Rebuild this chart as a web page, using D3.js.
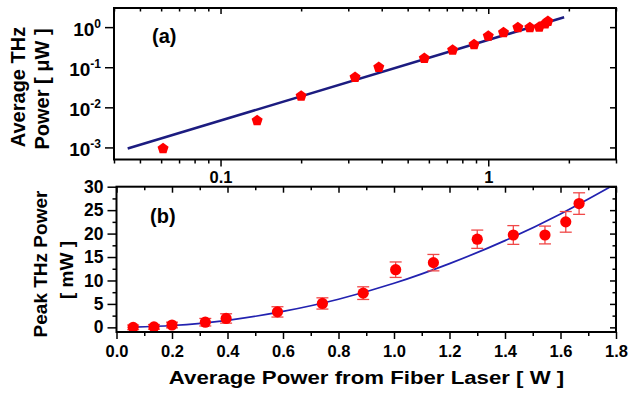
<!DOCTYPE html>
<html>
<head>
<meta charset="utf-8">
<script src="https://cdn.jsdelivr.net/npm/d3@7"></script>
<style>
  body { margin: 0; background: #fff; }
  svg text { font-family: "Liberation Sans", Arial, sans-serif; font-weight: bold; fill: #000; }
</style>
</head>
<body>
<svg id="chart" width="629" height="396"></svg>
<script>
/* global d3 */

//Panel (a): average THz power vs average laser power (log-log)
var laserA = [0.061, 0.137, 0.20, 0.318, 0.39, 0.577, 0.736, 0.885, 1.0, 1.14, 1.29, 1.43, 1.55, 1.63, 1.67];
var thzA = [0.00094, 0.0047, 0.019, 0.056, 0.099, 0.168, 0.27, 0.37, 0.60, 0.73, 0.97, 0.97, 1.0, 1.21, 1.4];
var fitLaserA = [0.045, 1.92];
var fitThzA = [0.00094, 1.77];
var yTicksA = [1e-3, 1e-2, 1e-1, 1];
var yExpA = ['-3', '-2', '-1', '0'];
var xMajorA = [0.1, 1];
var xLabelsA = ['0.1', '1'];

//Panel (b): peak THz power vs average laser power
var laserB = [0.06, 0.135, 0.20, 0.32, 0.395, 0.58, 0.742, 0.889, 1.006, 1.142, 1.30, 1.43, 1.544, 1.619, 1.667];
var peakB = [0.0, 0.1, 0.5, 1.1, 1.9, 3.3, 5.1, 7.3, 12.3, 13.8, 18.8, 19.7, 19.7, 22.5, 26.4];
var errB = [0.5, 0.5, 0.6, 0.8, 1.0, 1.1, 1.2, 1.35, 1.65, 1.75, 1.95, 2.0, 1.9, 2.2, 2.3];
var fitLaserB = [0.06, 0.2, 0.4, 0.6, 0.8, 1.0, 1.2, 1.4, 1.6, 1.78];
var fitPeakB = [0.05, 0.4, 1.5, 3.4, 6.0, 9.4, 13.6, 18.5, 24.2, 30];
var yMajorB = [0, 5, 10, 15, 20, 25, 30];
var yMinorB = [2.5, 7.5, 12.5, 17.5, 22.5, 27.5];
var xMajorB = [0, 0.2, 0.4, 0.6, 0.8, 1.0, 1.2, 1.4, 1.6, 1.8];
var xMinorB = [0.1, 0.3, 0.5, 0.7, 0.9, 1.1, 1.3, 1.5, 1.7];

var svg = d3.select('#chart');

var red = '#ff0000';

//Pentagon marker
var pentagon = {
  draw: function(context, size){
    var r = Math.sqrt(size / 2.378);
    for(var i = 0; i < 5; i++){
      var a = -Math.PI / 2 + i * 2 * Math.PI / 5;
      if(i === 0) context.moveTo(r * Math.cos(a), r * Math.sin(a));
      else context.lineTo(r * Math.cos(a), r * Math.sin(a));
    }
    context.closePath();
  }
};

//Helper: strip domain path, style ticks
function styleAxis(g, fontSize){
  g.select('.domain').remove();
  g.selectAll('.tick line').attr('stroke', '#000').attr('stroke-width', 1.5);
  g.selectAll('.tick text').attr('font-size', fontSize || 16.5);
}

//---------------- Panel (a) ----------------
var ax = { left: 114, right: 616, top: 8, bottom: 159.5 };
var xA = d3.scaleLog().domain([0.04, 3]).range([ax.left, ax.right]);
var yA = d3.scaleLog().domain([5e-4, 3]).range([ax.bottom, ax.top]);
var xMinorA = xA.ticks().filter(function(v){ return xMajorA.indexOf(v) < 0 && Math.abs(Math.log10(v) - Math.round(Math.log10(v))) > 1e-6; });

var gA = svg.append('g');

//Bottom ticks (outward) + labels
gA.append('g').attr('transform', 'translate(0,' + ax.bottom + ')')
  .call(d3.axisBottom(xA).tickValues(xMajorA).tickSize(7).tickPadding(5)
    .tickFormat(function(d, i){ return xLabelsA[i]; }))
  .call(styleAxis);
gA.append('g').attr('transform', 'translate(0,' + ax.bottom + ')')
  .call(d3.axisBottom(xA).tickValues(xMinorA).tickSize(4).tickFormat(''))
  .call(styleAxis);
//Top ticks (inward)
gA.append('g').attr('transform', 'translate(0,' + ax.top + ')')
  .call(d3.axisTop(xA).tickValues(xMajorA).tickSize(-6).tickFormat(''))
  .call(styleAxis);
gA.append('g').attr('transform', 'translate(0,' + ax.top + ')')
  .call(d3.axisTop(xA).tickValues(xMinorA).tickSize(-3.5).tickFormat(''))
  .call(styleAxis);
//Left ticks with 10^n labels
var leftA = gA.append('g').attr('transform', 'translate(' + ax.left + ',0)')
  .call(d3.axisLeft(yA).tickValues(yTicksA).tickSize(9).tickPadding(4).tickFormat(''))
  .call(styleAxis, 19);
leftA.selectAll('.tick text').each(function(d, i){
  var t = d3.select(this);
  t.text('10').attr('dy', '0.45em');
  t.append('tspan').attr('font-size', 12).attr('dy', '-0.7em').text(yExpA[i]);
});
//Right ticks (inward)
gA.append('g').attr('transform', 'translate(' + ax.right + ',0)')
  .call(d3.axisRight(yA).tickValues(yTicksA).tickSize(-6).tickFormat(''))
  .call(styleAxis);

//Fit line
var lineA = d3.line().x(function(d){ return xA(d[0]); }).y(function(d){ return yA(d[1]); });
gA.append('path').datum(d3.zip(fitLaserA, fitThzA))
  .attr('d', lineA).attr('fill', 'none').attr('stroke', '#1c1c80').attr('stroke-width', 2.6);

//Markers
gA.selectAll('.pent').data(d3.zip(laserA, thzA)).enter().append('path')
  .attr('class', 'pent')
  .attr('transform', function(d){ return 'translate(' + xA(d[0]) + ',' + yA(d[1]) + ')'; })
  .attr('d', d3.symbol().type(pentagon).size(80))
  .attr('fill', red);

//Frame
gA.append('rect').attr('x', ax.left).attr('y', ax.top)
  .attr('width', ax.right - ax.left).attr('height', ax.bottom - ax.top)
  .attr('fill', 'none').attr('stroke', '#000').attr('stroke-width', 2);

gA.append('text').attr('x', 152).attr('y', 43).attr('font-size', 20).text('(a)');

//Y title
var tA = gA.append('g').attr('transform', 'translate(0,87) rotate(-90)');
tA.append('text').attr('x', 0).attr('y', 25).attr('text-anchor', 'middle').attr('font-size', 20).text('Average THz');
tA.append('text').attr('x', -2).attr('y', 49).attr('text-anchor', 'middle').attr('font-size', 20).text('Power [ \u03bcW ]');

//---------------- Panel (b) ----------------
var bx = { left: 116.5, right: 616, top: 186.7, bottom: 332 };
var xB = d3.scaleLinear().domain([0, 1.8]).range([bx.left, bx.right]);
var yB = d3.scaleLinear().domain([-0.99, 30]).range([bx.bottom, bx.top]);

var gB = svg.append('g');

gB.append('g').attr('transform', 'translate(0,' + bx.bottom + ')')
  .call(d3.axisBottom(xB).tickValues(xMajorB).tickSize(7).tickPadding(6).tickFormat(d3.format('.1f')))
  .call(styleAxis);
gB.append('g').attr('transform', 'translate(0,' + bx.bottom + ')')
  .call(d3.axisBottom(xB).tickValues(xMinorB).tickSize(4).tickFormat(''))
  .call(styleAxis);
gB.append('g').attr('transform', 'translate(0,' + bx.top + ')')
  .call(d3.axisTop(xB).tickValues(xMajorB).tickSize(-6).tickFormat(''))
  .call(styleAxis);
gB.append('g').attr('transform', 'translate(0,' + bx.top + ')')
  .call(d3.axisTop(xB).tickValues(xMinorB).tickSize(-3.5).tickFormat(''))
  .call(styleAxis);
gB.append('g').attr('transform', 'translate(' + bx.left + ',0)')
  .call(d3.axisLeft(yB).tickValues(yMajorB).tickSize(9).tickPadding(4))
  .call(styleAxis, 17.5);
gB.append('g').attr('transform', 'translate(' + bx.left + ',0)')
  .call(d3.axisLeft(yB).tickValues(yMinorB).tickSize(4).tickFormat(''))
  .call(styleAxis);
gB.append('g').attr('transform', 'translate(' + bx.right + ',0)')
  .call(d3.axisRight(yB).tickValues(yMajorB).tickSize(-6).tickFormat(''))
  .call(styleAxis);
gB.append('g').attr('transform', 'translate(' + bx.right + ',0)')
  .call(d3.axisRight(yB).tickValues(yMinorB).tickSize(-3.5).tickFormat(''))
  .call(styleAxis);

//Fit curve
var lineB = d3.line().curve(d3.curveMonotoneX).x(function(d){ return xB(d[0]); }).y(function(d){ return yB(d[1]); });
gB.append('path').datum(d3.zip(fitLaserB, fitPeakB))
  .attr('d', lineB).attr('fill', 'none').attr('stroke', '#2222b0').attr('stroke-width', 1.7);

//Error bars
var ptsB = d3.zip(laserB, peakB, errB);
var eb = gB.selectAll('.err').data(ptsB).enter().append('g').attr('class', 'err')
  .attr('stroke', '#f04848').attr('stroke-width', 1.3);
eb.append('line')
  .attr('x1', function(d){ return xB(d[0]); }).attr('x2', function(d){ return xB(d[0]); })
  .attr('y1', function(d){ return yB(d[1] - d[2]); }).attr('y2', function(d){ return yB(d[1] + d[2]); });
eb.append('line')
  .attr('x1', function(d){ return xB(d[0]) - 6; }).attr('x2', function(d){ return xB(d[0]) + 6; })
  .attr('y1', function(d){ return yB(d[1] + d[2]); }).attr('y2', function(d){ return yB(d[1] + d[2]); });
eb.append('line')
  .attr('x1', function(d){ return xB(d[0]) - 6; }).attr('x2', function(d){ return xB(d[0]) + 6; })
  .attr('y1', function(d){ return yB(d[1] - d[2]); }).attr('y2', function(d){ return yB(d[1] - d[2]); });

//Markers
gB.selectAll('.dot').data(ptsB).enter().append('circle')
  .attr('class', 'dot')
  .attr('cx', function(d){ return xB(d[0]); }).attr('cy', function(d){ return yB(d[1]); })
  .attr('r', 5.6).attr('fill', red);

//Frame
gB.append('rect').attr('x', bx.left).attr('y', bx.top)
  .attr('width', bx.right - bx.left).attr('height', bx.bottom - bx.top)
  .attr('fill', 'none').attr('stroke', '#000').attr('stroke-width', 2);

gB.append('text').attr('x', 150).attr('y', 223).attr('font-size', 20).text('(b)');

var tB = gB.append('g').attr('transform', 'translate(0,264) rotate(-90)');
tB.append('text').attr('x', 0).attr('y', 47).attr('text-anchor', 'middle').attr('font-size', 19).text('Peak THz Power');
tB.append('text').attr('x', -6).attr('y', 73).attr('text-anchor', 'middle').attr('font-size', 19).text('[ mW ]');

//X title (slightly widened like the original)
svg.append('g').attr('transform', 'translate(366.5,384) scale(1.17,1)')
  .append('text').attr('text-anchor', 'middle').attr('font-size', 19)
  .text('Average Power from Fiber Laser [ W ]');
</script>
</body>
</html>
